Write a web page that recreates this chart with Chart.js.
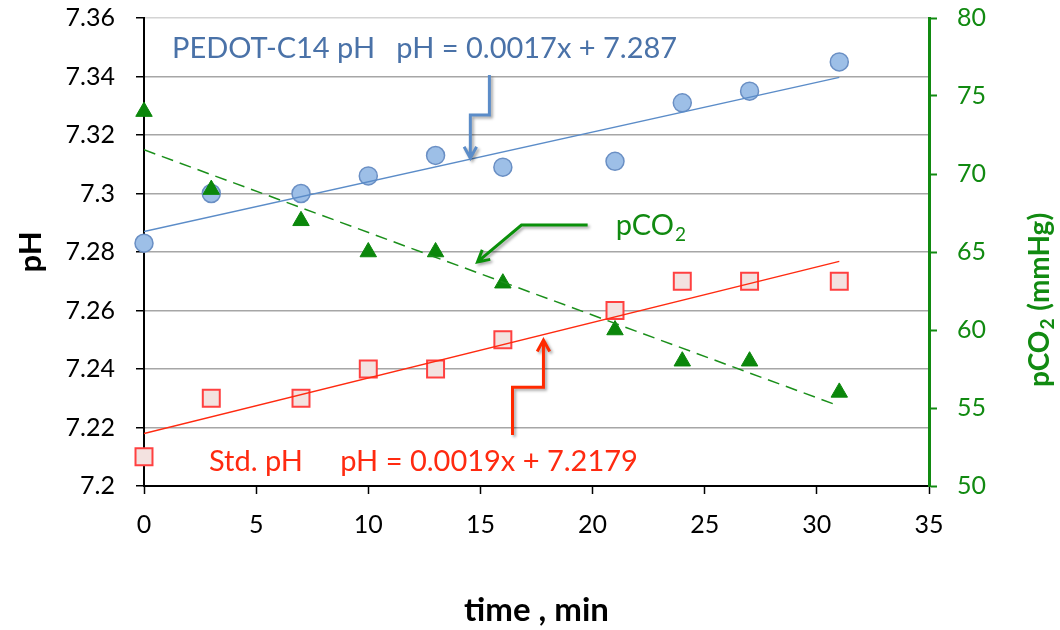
<!DOCTYPE html>
<html>
<head>
<meta charset="utf-8">
<script src="https://cdn.jsdelivr.net/npm/chart.js@4"></script>
<style>
  body { margin: 0; background: #fff; }
</style>
</head>
<body>
<canvas id="myChart" width="1060" height="630"></canvas>
<script>
const ctx = document.getElementById("myChart");

const times = [0, 3, 7, 10, 13, 16, 21, 24, 27, 31];
const pedotPH = [7.283, 7.3, 7.3, 7.306, 7.313, 7.309, 7.311, 7.331, 7.335, 7.345];
const stdPH = [7.21, 7.23, 7.23, 7.24, 7.24, 7.25, 7.26, 7.27, 7.27, 7.27];
const pco2 = [74, 69, 67, 65, 65, 63, 60, 58, 58, 56];

// linear fits [slope, intercept]
const pedotFit = [0.0017, 7.287];
const stdFit = [0.0019, 7.2179];
const pco2Fit = [-0.5298, 71.55];

const timeTicks = [0, 5, 10, 15, 20, 25, 30, 35];
const phTicks = [7.2, 7.22, 7.24, 7.26, 7.28, 7.3, 7.32, 7.34, 7.36];
const pco2Ticks = [50, 55, 60, 65, 70, 75, 80];

const BLUE = "#4a72a8";
const RED = "#ff2a10";
const GREEN = "#118a11";
const FONT = "Lato, 'Open Sans', sans-serif";

Chart.defaults.font.family = FONT;

const points = (ys) => times.map((t, i) => ({ x: t, y: ys[i] }));
const fitLine = (fit) => [0, times[times.length - 1]].map((t) => ({ x: t, y: fit[0] * t + fit[1] }));

// fixed axis boxes so the plot area sits where it should
const fixBox = (w, h) => (s) => {
  if (w) s.width = w;
  if (h) s.height = h;
  s.paddingTop = 0;
  s.paddingBottom = 0;
  s.paddingLeft = 0;
  s.paddingRight = 0;
};

function drawArrow(c, pts, color) {
  c.save();
  c.strokeStyle = color;
  c.lineWidth = 3;
  c.lineJoin = "miter";
  c.shadowColor = "rgba(0,0,0,0.35)";
  c.shadowBlur = 3;
  c.shadowOffsetX = 2;
  c.shadowOffsetY = 2;
  c.beginPath();
  c.moveTo(pts[0][0], pts[0][1]);
  for (let i = 1; i < pts.length; i++) c.lineTo(pts[i][0], pts[i][1]);
  const [x1, y1] = pts[pts.length - 2];
  const [x2, y2] = pts[pts.length - 1];
  const a = Math.atan2(y2 - y1, x2 - x1);
  const len = 13;
  c.moveTo(x2 - len * Math.cos(a - 0.5), y2 - len * Math.sin(a - 0.5));
  c.lineTo(x2, y2);
  c.lineTo(x2 - len * Math.cos(a + 0.5), y2 - len * Math.sin(a + 0.5));
  c.stroke();
  c.restore();
}

const notes = {
  id: "notes",
  afterDatasetsDraw(chart) {
    const c = chart.ctx;
    const xs = chart.scales.x;
    const ys = chart.scales.y;
    const P = (x, y) => [xs.getPixelForValue(x), ys.getPixelForValue(y)];

    drawArrow(c, [P(15.4, 7.3405), P(15.4, 7.3268), P(14.55, 7.3268), P(14.55, 7.3121)], "#5b8cc8");
    drawArrow(c, [P(19.78, 7.2892), P(16.83, 7.2892), P(14.87, 7.2766)], "#0a900a");
    drawArrow(c, [P(16.43, 7.2174), P(16.43, 7.2338), P(17.81, 7.2338), P(17.81, 7.2499)], "#ff2a00");

    c.save();
    c.font = "29px " + FONT;
    c.textBaseline = "middle";
    c.textAlign = "left";
    c.fillStyle = BLUE;
    let p = P(1.25, 7.3495);
    c.fillText("PEDOT-C14 pH", p[0], p[1]);
    p = P(11.25, 7.3495);
    c.fillText("pH = 0.0017x + 7.287", p[0], p[1]);

    c.fillStyle = RED;
    p = P(2.9, 7.2082);
    c.fillText("Std. pH", p[0], p[1]);
    p = P(8.75, 7.2082);
    c.fillText("pH = 0.0019x + 7.2179", p[0], p[1]);

    c.fillStyle = GREEN;
    p = P(21.03, 7.2889);
    c.fillText("pCO", p[0], p[1]);
    const w = c.measureText("pCO").width;
    c.font = "19px " + FONT;
    c.fillText("2", p[0] + w + 1, p[1] + 9);
    c.restore();
  },
  afterDraw(chart) {
    // right axis title, reading bottom to top
    const c = chart.ctx;
    c.save();
    c.translate(1040, 300);
    c.rotate(-Math.PI / 2);
    c.fillStyle = GREEN;
    c.textBaseline = "middle";
    c.textAlign = "left";
    const big = "bold 28px " + FONT;
    const small = "bold 19px " + FONT;
    c.font = big;
    const w1 = c.measureText("pCO").width;
    c.font = small;
    const w2 = c.measureText("2").width;
    c.font = big;
    const w3 = c.measureText(" (mmHg)").width;
    let x = -(w1 + w2 + w3 + 2) / 2;
    c.fillText("pCO", x, 0);
    x += w1 + 1;
    c.font = small;
    c.fillText("2", x, 8);
    x += w2 + 1;
    c.font = big;
    c.fillText(" (mmHg)", x, 0);
    c.restore();
  },
};

new Chart(ctx, {
  type: "scatter",
  data: {
    datasets: [
      {
        type: "line",
        data: fitLine(pedotFit),
        borderColor: "#5b8cc8",
        borderWidth: 1.5,
        pointRadius: 0,
        yAxisID: "y",
        order: 0,
      },
      {
        type: "line",
        data: fitLine(stdFit),
        borderColor: "#ff2a10",
        borderWidth: 1.5,
        pointRadius: 0,
        yAxisID: "y",
        order: 0,
      },
      {
        type: "line",
        data: fitLine(pco2Fit),
        borderColor: "#1a8f1a",
        borderWidth: 1.5,
        borderDash: [12, 7],
        pointRadius: 0,
        yAxisID: "y1",
        order: 0,
      },
      {
        label: "pCO2",
        data: points(pco2),
        pointStyle: "triangle",
        pointRadius: 9.5,
        backgroundColor: "#0b870b",
        borderColor: "#0b870b",
        borderWidth: 1,
        yAxisID: "y1",
        order: 1,
        clip: false,
      },
      {
        label: "PEDOT-C14 pH",
        data: points(pedotPH),
        pointStyle: "circle",
        pointRadius: 9,
        backgroundColor: "#9dbfe7",
        borderColor: "#6a8fc4",
        borderWidth: 1.5,
        yAxisID: "y",
        order: 3,
        clip: false,
      },
      {
        label: "Std. pH",
        data: points(stdPH),
        pointStyle: "rect",
        pointRadius: 12,
        backgroundColor: "#f3e2e0",
        borderColor: "#ff4040",
        borderWidth: 2,
        yAxisID: "y",
        order: 2,
        clip: false,
      },
    ],
  },
  options: {
    responsive: false,
    animation: false,
    layout: { padding: { top: 18, left: 0, right: 0, bottom: 0 } },
    plugins: {
      legend: { display: false },
      tooltip: { enabled: false },
    },
    scales: {
      x: {
        type: "linear",
        min: 0,
        max: 35,
        afterBuildTicks: (s) => { s.ticks = timeTicks.map((v) => ({ value: v })); },
        afterFit: fixBox(0, 144),
        ticks: { color: "#000", font: { size: 25 }, padding: 16 },
        grid: { drawOnChartArea: false, tickLength: 8, tickColor: "#000", tickWidth: 1.5 },
        border: { color: "#000", width: 2 },
        title: {
          display: true,
          text: "time , min",
          color: "#000",
          font: { size: 33, weight: "bold" },
          padding: { top: 0, bottom: 0 },
        },
      },
      y: {
        type: "linear",
        position: "left",
        min: 7.2,
        max: 7.36,
        afterBuildTicks: (s) => { s.ticks = phTicks.map((v) => ({ value: v })); },
        afterFit: fixBox(144, 0),
        ticks: { color: "#000", font: { size: 25 }, padding: 21, callback: (v) => String(v) },
        grid: {
          color: (c) => (c.tick && c.tick.value === 7.36 ? "#d4d4d4" : "#a6a6a6"),
          lineWidth: 1.5,
          tickLength: 8,
          tickColor: "#000",
          tickWidth: 1.5,
        },
        border: { color: "#000", width: 2 },
        title: {
          display: true,
          text: "pH",
          color: "#000",
          font: { size: 31, weight: "bold" },
          padding: { top: 12, bottom: 0 },
        },
      },
      y1: {
        type: "linear",
        position: "right",
        min: 50,
        max: 80,
        afterBuildTicks: (s) => { s.ticks = pco2Ticks.map((v) => ({ value: v })); },
        afterFit: fixBox(131, 0),
        ticks: { color: GREEN, font: { size: 25 }, padding: 20 },
        grid: { drawOnChartArea: false, tickLength: 8, tickColor: GREEN, tickWidth: 2 },
        border: { color: GREEN, width: 3 },
      },
    },
  },
  plugins: [notes],
});
</script>
</body>
</html>
